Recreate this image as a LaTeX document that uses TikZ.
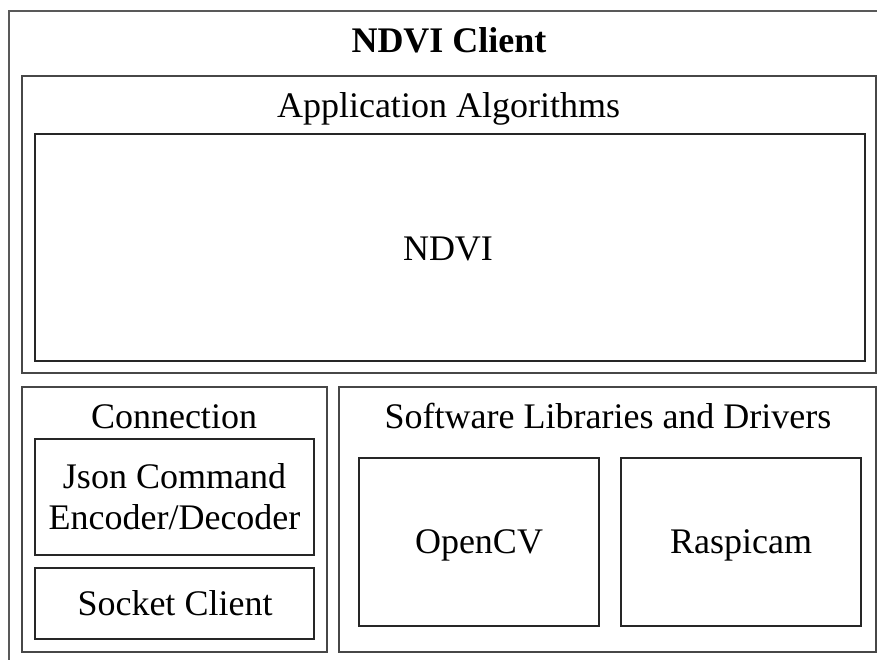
\documentclass[tikz,border=0pt]{standalone}
\usepackage{fontspec}
\setmainfont{Liberation Serif}
\begin{document}
\begin{tikzpicture}[x=1pt,y=-1pt,
  box/.style={draw=black!72,line width=1.1pt,rectangle,inner sep=0pt},
  txt/.style={anchor=base,inner sep=0pt,font=\fontsize{36}{41}\selectfont},
  ttl/.style={txt,font=\fontsize{36}{41}\selectfont\bfseries}]
\useasboundingbox (0,0) rectangle (877,660);
\clip (0,0) rectangle (877,660);
\fill[white] (0,0) rectangle (877,660);
% outer frame, running off the page at right and bottom
\draw[black!65,line width=1.1pt] (9,680) |- (900,11);
\node[ttl] (title) at (449,53) {NDVI Client};
% application layer
\node[box,minimum width=854pt,minimum height=297pt] (app) at (449,224.5) {};
\node[txt] (applbl) at (448.5,118) {Application Algorithms};
\node[box,draw=black!85,minimum width=830pt,minimum height=227pt] (ndvi) at (450,247.5) {};
\node[txt] (ndvilbl) at (448,260) {NDVI};
% connection layer
\node[box,minimum width=305pt,minimum height=265pt] (conn) at (174.5,519.5) {};
\node[txt] (connlbl) at (174,428) {Connection};
\node[box,draw=black!85,minimum width=279pt,minimum height=116pt] (json) at (174.5,497) {};
\node[txt] (json1) at (174.5,488) {Json Command};
\node[txt] (json2) at (174.5,529) {Encoder/Decoder};
\node[box,draw=black!85,minimum width=279pt,minimum height=71pt] (sock) at (174.5,603.5) {};
\node[txt] (socklbl) at (175,615) {Socket Client};
% libraries and drivers
\node[box,minimum width=537pt,minimum height=265pt] (soft) at (607.5,519.5) {};
\node[txt] (softlbl) at (608,428) {Software Libraries and Drivers};
\node[box,draw=black!85,minimum width=240pt,minimum height=168pt] (cv) at (479,542) {};
\node[txt] (cvlbl) at (479,553) {OpenCV};
\node[box,draw=black!85,minimum width=240pt,minimum height=168pt] (cam) at (741,542) {};
\node[txt] (camlbl) at (741,553) {Raspicam};
\end{tikzpicture}
\end{document}
